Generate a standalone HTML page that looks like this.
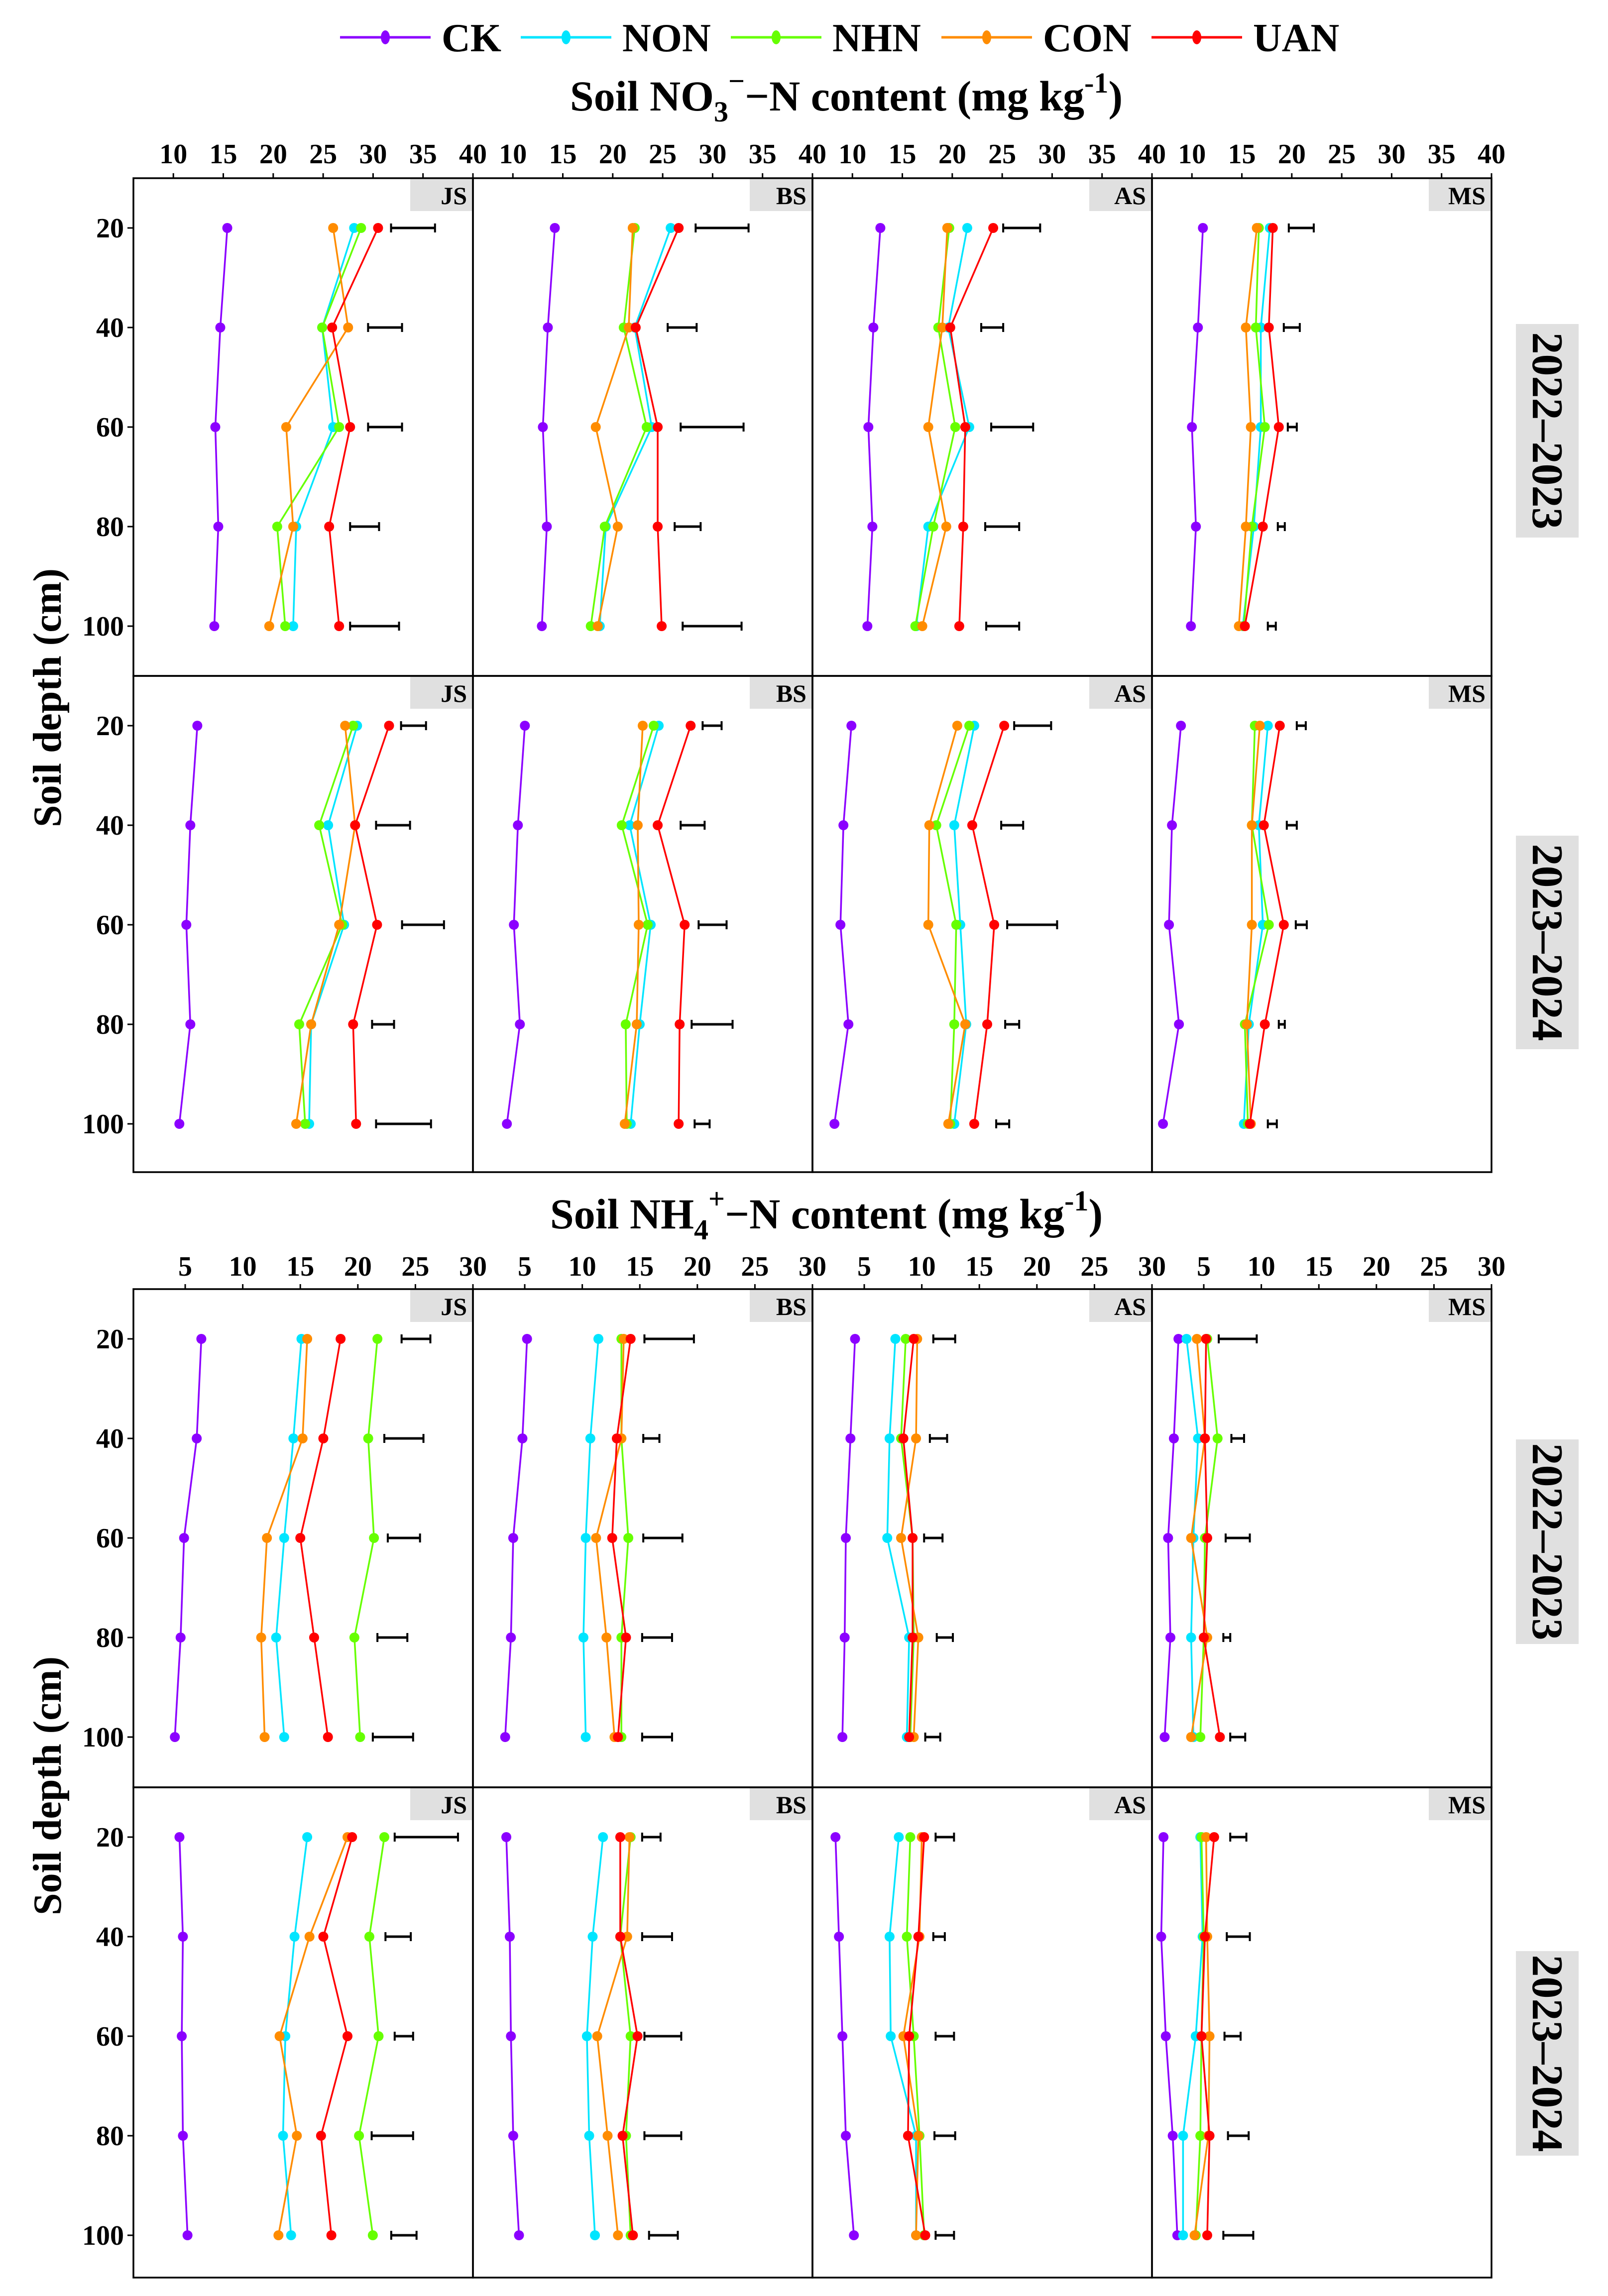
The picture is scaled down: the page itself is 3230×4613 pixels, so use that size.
<!DOCTYPE html>
<html>
<head>
<meta charset="utf-8">
<style>
  html,body{margin:0;padding:0;background:#fff;}
  svg{display:block;}
  text{font-family:"Liberation Serif",serif;font-weight:bold;fill:#000;}
</style>
</head>
<body>
<svg id="fig" xmlns="http://www.w3.org/2000/svg" width="3230" height="4613" viewBox="0 0 3230 4613">
  <rect x="0" y="0" width="3230" height="4613" fill="#fff"/>
  <g id="legend"></g>
  <text x="1700" y="222" font-size="86" text-anchor="middle">Soil NO<tspan font-size="58" dy="22">3</tspan><tspan font-size="58" dy="-62">−</tspan><tspan dy="40">−N content (mg kg</tspan><tspan font-size="58" dy="-36">-1</tspan><tspan dy="36">)</tspan></text>
  <text x="1660" y="2468" font-size="86" text-anchor="middle">Soil NH<tspan font-size="58" dy="22">4</tspan><tspan font-size="58" dy="-62">+</tspan><tspan dy="40">−N content (mg kg</tspan><tspan font-size="58" dy="-36">-1</tspan><tspan dy="36">)</tspan></text>
  <text transform="translate(122,1402) rotate(-90)" font-size="80" text-anchor="middle">Soil depth (cm)</text>
  <text transform="translate(122,3588) rotate(-90)" font-size="80" text-anchor="middle">Soil depth (cm)</text>
  <g id="plots"></g>
</svg>
<script>
const treatments = ['CK','NON','NHN','CON','UAN'];
const colors = ['#8b00ff','#00e5ff','#66ff00','#ff8c00','#ff0000'];
const sites = ['JS','BS','AS','MS'];
const depths = [20,40,60,80,100];
const no3Ticks = [10,15,20,25,30,35,40];
const nh4Ticks = [5,10,15,20,25,30];
const years = ['2022–2023','2023–2024'];

// NO3 2022-2023 (rows: CK, NON, NHN, CON, UAN)
const no3_y1_JS = [[15.4,14.7,14.2,14.5,14.1],[28.1,24.9,26.0,22.3,22.0],[28.8,24.9,26.6,20.4,21.2],[26.0,27.5,21.3,22.0,19.6],[30.5,25.9,27.7,25.6,26.6]];
const no3_y1_JS_err = [[31.8,36.2],[29.5,32.9],[29.5,32.9],[27.7,30.6],[27.7,32.6]];
const no3_y1_BS = [[14.2,13.5,13.0,13.4,12.9],[25.8,22.2,23.9,19.3,18.7],[22.2,21.1,23.4,19.2,17.8],[22.0,21.6,18.3,20.5,18.5],[26.6,22.3,24.5,24.5,24.9]];
const no3_y1_BS_err = [[28.3,33.6],[25.5,28.4],[26.8,33.1],[26.2,28.8],[27.0,32.9]];
const no3_y1_AS = [[12.8,12.1,11.6,12.0,11.5],[21.5,19.6,21.7,17.6,16.4],[19.7,18.6,20.3,18.1,16.3],[19.5,19.0,17.6,19.4,17.0],[24.1,19.8,21.3,21.1,20.7]];
const no3_y1_AS_err = [[25.1,28.8],[22.9,25.1],[23.9,28.1],[23.3,26.7],[23.4,26.7]];
const no3_y1_MS = [[11.1,10.6,10.0,10.4,9.9],[17.8,16.9,16.9,16.2,15.1],[16.7,16.4,17.3,16.0,15.2],[16.5,15.4,15.9,15.4,14.7],[18.1,17.7,18.7,17.1,15.3]];
const no3_y1_MS_err = [[19.7,22.2],[19.2,20.8],[19.6,20.5],[18.6,19.3],[17.6,18.4]];
// NO3 2023-2024
const no3_y2_JS = [[12.4,11.7,11.3,11.7,10.6],[28.4,25.5,27.1,23.8,23.6],[28.0,24.6,26.9,22.6,23.2],[27.2,28.2,26.6,23.8,22.3],[31.6,28.2,30.4,28.0,28.3]];
const no3_y2_JS_err = [[32.8,35.3],[30.3,33.7],[32.9,37.1],[29.9,32.1],[30.3,35.8]];
const no3_y2_BS = [[11.2,10.5,10.1,10.7,9.4],[24.6,21.7,23.8,22.7,21.8],[24.1,20.9,23.5,21.3,21.4],[23.0,22.5,22.6,22.4,21.2],[27.8,24.5,27.2,26.7,26.6]];
const no3_y2_BS_err = [[29.0,30.9],[26.8,29.2],[28.6,31.4],[27.9,32.0],[28.2,29.7]];
const no3_y2_AS = [[9.9,9.1,8.8,9.6,8.2],[22.2,20.2,20.8,21.4,20.2],[21.7,18.4,20.4,20.2,19.8],[20.5,17.7,17.6,21.3,19.6],[25.2,22.0,24.2,23.5,22.2]];
const no3_y2_AS_err = [[26.2,29.9],[24.9,27.1],[25.5,30.5],[25.3,26.7],[24.4,25.7]];
const no3_y2_MS = [[8.9,8.0,7.7,8.7,7.1],[17.6,16.7,17.1,15.7,15.2],[16.3,16.0,17.7,15.3,15.6],[16.8,16.0,16.0,15.5,15.9],[18.8,17.2,19.2,17.3,15.8]];
const no3_y2_MS_err = [[20.5,21.4],[19.5,20.5],[20.4,21.5],[18.7,19.3],[17.6,18.5]];
// NH4 2022-2023
const nh4_y1_JS = [[6.4,6.0,4.9,4.6,4.1],[15.1,14.4,13.6,12.9,13.6],[21.7,20.9,21.4,19.7,20.2],[15.6,15.2,12.1,11.6,11.9],[18.5,17.0,15.0,16.2,17.4]];
const nh4_y1_JS_err = [[23.8,26.3],[22.3,25.7],[22.6,25.4],[21.7,24.3],[21.3,24.8]];
const nh4_y1_BS = [[5.2,4.8,4.0,3.8,3.3],[11.4,10.7,10.3,10.1,10.3],[13.4,13.4,14.0,13.4,13.4],[13.6,13.4,11.2,12.1,12.8],[14.2,13.0,12.6,13.8,13.1]];
const nh4_y1_BS_err = [[15.4,19.7],[15.3,16.7],[15.3,18.7],[15.2,17.8],[15.2,17.8]];
const nh4_y1_AS = [[4.2,3.8,3.4,3.3,3.1],[7.7,7.2,7.0,8.9,8.7],[8.6,8.2,9.2,9.3,9.0],[9.6,9.5,8.2,9.7,9.3],[9.3,8.4,9.2,9.2,8.9]];
const nh4_y1_AS_err = [[11.0,12.9],[10.7,12.2],[10.2,11.8],[11.3,12.7],[10.3,11.6]];
const nh4_y1_MS = [[2.8,2.4,1.9,2.1,1.6],[3.5,4.5,4.1,3.9,4.1],[5.3,6.2,5.1,5.0,4.7],[4.4,5.1,3.9,5.3,3.9],[5.2,5.1,5.3,5.0,6.4]];
const nh4_y1_MS_err = [[6.3,9.6],[7.4,8.5],[6.9,9.0],[6.7,7.3],[7.3,8.6]];
// NH4 2023-2024
const nh4_y2_JS = [[4.5,4.8,4.7,4.8,5.2],[15.6,14.5,13.7,13.5,14.2],[22.3,21.0,21.8,20.1,21.3],[19.1,15.8,13.2,14.7,13.1],[19.5,17.0,19.1,16.8,17.7]];
const nh4_y2_JS_err = [[23.2,28.7],[22.4,24.6],[23.2,24.8],[21.2,24.8],[22.9,25.1]];
const nh4_y2_BS = [[3.4,3.7,3.8,4.0,4.5],[11.8,10.9,10.4,10.6,11.1],[14.2,13.3,14.2,13.8,14.2],[14.1,13.9,11.3,12.2,13.1],[13.3,13.3,14.8,13.5,14.4]];
const nh4_y2_BS_err = [[15.2,16.8],[15.2,17.8],[15.4,18.6],[15.4,18.6],[15.8,18.3]];
const nh4_y2_AS = [[2.5,2.8,3.1,3.4,4.1],[8.0,7.2,7.3,9.5,9.5],[9.0,8.7,9.3,9.8,10.2],[10.0,9.8,8.4,9.7,9.5],[10.2,9.7,8.9,8.8,10.3]];
const nh4_y2_AS_err = [[11.2,12.8],[11.0,12.0],[11.2,12.8],[11.1,12.9],[11.2,12.8]];
const nh4_y2_MS = [[1.5,1.3,1.7,2.3,2.7],[4.7,4.9,4.3,3.2,3.2],[4.8,5.0,4.8,4.7,4.3],[5.2,5.3,5.5,5.4,4.2],[5.9,5.1,4.8,5.5,5.3]];
const nh4_y2_MS_err = [[7.3,8.7],[7.0,9.0],[6.8,8.2],[7.1,8.9],[6.7,9.3]];

const NS = 'http://www.w3.org/2000/svg';
function mk(tag, attrs, parent){
  const e = document.createElementNS(NS, tag);
  for (const k in attrs) e.setAttribute(k, attrs[k]);
  parent.appendChild(e);
  return e;
}

// legend
const legend = document.getElementById('legend');
const legX = [683,1046,1468,1891,2313];
treatments.forEach((t,i)=>{
  const g = mk('g',{},legend);
  
  
  mk('line',{x1:legX[i],y1:75,x2:legX[i]+182,y2:75,stroke:colors[i],'stroke-width':5},g);
  mk('ellipse',{cx:legX[i]+91,cy:75,rx:9,ry:14,fill:colors[i]},g);
  const tx = mk('text',{x:legX[i]+204,y:103,'font-size':80},g);
  tx.textContent = t;
});

const plots = document.getElementById('plots');
const PX0 = 268, PW = 682;

function drawChart(cfg){
  const g = mk('g',{},plots);
  
  
  const sx = (i,v)=> PX0 + i*PW + (v - cfg.xmin)/(cfg.xmax - cfg.xmin)*PW;
  // x tick labels (top)
  sites.forEach((s,i)=>{
    cfg.ticks.forEach(t=>{
      const x = sx(i,t);
      const tk = mk('line',{x1:x,y1:cfg.rows[0][0]-10,x2:x,y2:cfg.rows[0][0],stroke:'#000','stroke-width':3},g);
      
      
      const lb = mk('text',{x:x,y:cfg.tickBase,'font-size':56,'text-anchor':'middle'},g);
      
      
      lb.textContent = t;
    });
  });
  cfg.rows.forEach((row,r)=>{
    const top = row[0], bot = row[1];
    const sy = d => top + (d - 10)*10;
    // y ticks
    depths.forEach(d=>{
      const y = sy(d);
      const tk = mk('line',{x1:PX0-12,y1:y,x2:PX0,y2:y,stroke:'#000','stroke-width':3},g);
      
      
      const lb = mk('text',{x:249,y:y+19,'font-size':56,'text-anchor':'end'},g);
      
      
      lb.textContent = d;
    });
    sites.forEach((s,i)=>{
      const data = cfg.data[r][i], err = cfg.err[r][i];
      const pg = mk('g',{},g);
      
      
      const px = PX0 + i*PW;
      // strip label
      const sb = mk('rect',{x:px+PW-126,y:top+2,width:124,height:64,fill:'#e0e0e0'},pg);
      
      
      const st = mk('text',{x:px+PW-12,y:top+52,'font-size':50,'text-anchor':'end'},pg);
      
      
      st.textContent = s;
      // series
      data.forEach((vals,k)=>{
        const sg = mk('g',{},pg);
        
        
        const pts = vals.map((v,j)=> sx(i,v).toFixed(1) + ',' + sy(depths[j]).toFixed(1)).join(' ');
        mk('polyline',{points:pts,fill:'none',stroke:colors[k],'stroke-width':3.5},sg);
        vals.forEach((v,j)=>{
          const c = mk('circle',{cx:sx(i,v),cy:sy(depths[j]),r:10,fill:colors[k]},sg);
          
          
        });
      });
      // error bars
      err.forEach((e,j)=>{
        const y = sy(depths[j]);
        const eb = mk('g',{stroke:'#000','stroke-width':5},pg);
        
        
        mk('line',{x1:sx(i,e[0]),y1:y,x2:sx(i,e[1]),y2:y},eb);
        mk('line',{x1:sx(i,e[0]),y1:y-9,x2:sx(i,e[0]),y2:y+9,'stroke-width':4},eb);
        mk('line',{x1:sx(i,e[1]),y1:y-9,x2:sx(i,e[1]),y2:y+9,'stroke-width':4},eb);
      });
      // panel frame
      const fr = mk('rect',{x:px,y:top,width:PW,height:bot-top,fill:'none',stroke:'#000','stroke-width':3.5},pg);
      
      
    });
    // year strip
    const ys = cfg.strips[r];
    const yb = mk('rect',{x:3045,y:ys[0],width:126,height:ys[1]-ys[0],fill:'#e0e0e0'},g);
    
    
    const cy = (ys[0]+ys[1])/2;
    const yt = mk('text',{transform:'translate(3079,' + cy + ') rotate(90)','font-size':88,'text-anchor':'middle'},g);
    
    
    yt.textContent = years[r];
  });
}

drawChart({
  name:'no3-chart', key:'no3', xmin:6, xmax:40, ticks:no3Ticks, tickBase:328,
  rows:[[358,1358],[1358,2355]],
  strips:[[651,1080],[1679,2108]],
  data:[[no3_y1_JS,no3_y1_BS,no3_y1_AS,no3_y1_MS],[no3_y2_JS,no3_y2_BS,no3_y2_AS,no3_y2_MS]],
  err:[[no3_y1_JS_err,no3_y1_BS_err,no3_y1_AS_err,no3_y1_MS_err],[no3_y2_JS_err,no3_y2_BS_err,no3_y2_AS_err,no3_y2_MS_err]]
});
drawChart({
  name:'nh4-chart', key:'nh4', xmin:0.5, xmax:30, ticks:nh4Ticks, tickBase:2563,
  rows:[[2590,3591],[3591,4576]],
  strips:[[2892,3303],[3920,4331]],
  data:[[nh4_y1_JS,nh4_y1_BS,nh4_y1_AS,nh4_y1_MS],[nh4_y2_JS,nh4_y2_BS,nh4_y2_AS,nh4_y2_MS]],
  err:[[nh4_y1_JS_err,nh4_y1_BS_err,nh4_y1_AS_err,nh4_y1_MS_err],[nh4_y2_JS_err,nh4_y2_BS_err,nh4_y2_AS_err,nh4_y2_MS_err]]
});
</script>
</body>
</html>
